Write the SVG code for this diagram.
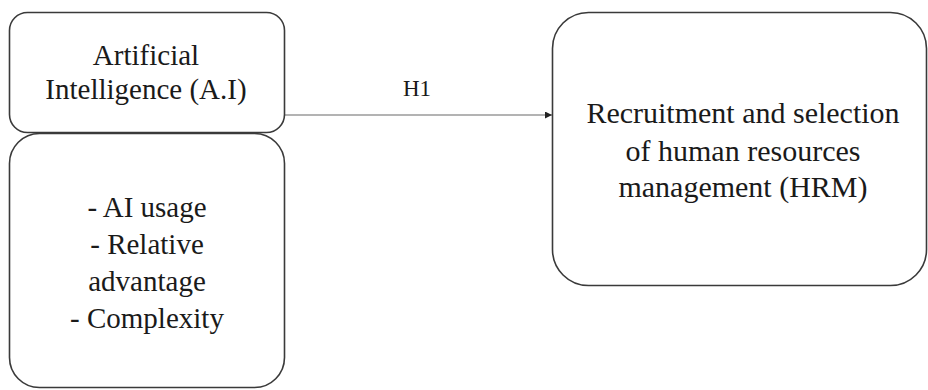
<svg xmlns="http://www.w3.org/2000/svg" width="928" height="390" viewBox="0 0 928 390">
<defs>
<style>
.box{fill:#fff;stroke:#3a3a3a;stroke-width:1.6}
.t{font-family:"Liberation Serif","Times New Roman",serif;font-size:29px;fill:#1a1a1a;text-anchor:middle}
.t2{font-size:30px}
.lbl{font-family:"Liberation Serif","Times New Roman",serif;font-size:23px;fill:#1a1a1a;text-anchor:middle}
.edge{stroke:#9a9a9a;stroke-width:1.5;fill:none}
</style>
<marker id="arr" viewBox="0 0 10 10" refX="10" refY="5" markerWidth="7" markerHeight="7" markerUnits="userSpaceOnUse" orient="auto">
<path d="M0,0 L10,5 L0,10 z" fill="#222"/>
</marker>
</defs>
<rect width="928" height="390" fill="#fff"/>
<g id="connectors">
<line class="edge" x1="285" y1="115" x2="552" y2="115" marker-end="url(#arr)"/>
<text class="lbl" x="417" y="96">H1</text>
</g>
<g id="ai">
<rect class="box" x="9.5" y="12.5" width="275" height="120" rx="18"/>
<text class="t" x="146" y="65">Artificial</text>
<text class="t" x="146" y="99">Intelligence (A.I)</text>
</g>
<g id="dimensions">
<rect class="box" x="9.5" y="133.5" width="275" height="254" rx="30"/>
<text class="t" x="147" y="217">- AI usage</text>
<text class="t" x="147" y="254">- Relative</text>
<text class="t" x="147" y="291">advantage</text>
<text class="t" x="147" y="328">- Complexity</text>
</g>
<g id="hrm">
<rect class="box" x="552.5" y="12.5" width="374" height="273" rx="36"/>
<text class="t t2" x="743" y="123">Recruitment and selection</text>
<text class="t t2" x="743" y="161">of human resources</text>
<text class="t t2" x="743" y="197">management (HRM)</text>
</g>
</svg>
